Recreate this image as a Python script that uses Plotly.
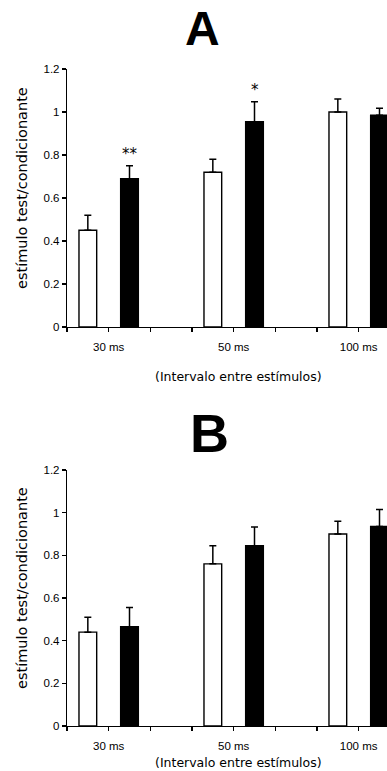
import plotly.graph_objects as go

categories = ["30 ms", "50 ms", "100 ms"]
# Panel A
a_white = [0.45, 0.72, 1.00]
a_white_err = [0.07, 0.06, 0.06]
a_black = [0.69, 0.955, 0.985]
a_black_err = [0.06, 0.093, 0.032]
a_marks = ["**", "*", ""]
# Panel B
b_white = [0.44, 0.76, 0.90]
b_white_err = [0.07, 0.085, 0.06]
b_black = [0.465, 0.845, 0.935]
b_black_err = [0.09, 0.088, 0.08]

y_ticks = [0, 0.2, 0.4, 0.6, 0.8, 1, 1.2]
y_title = "estímulo test/condicionante"
x_title = "(Intervalo entre estímulos)"

W, H = 387, 771
L, R = 67, 0
group_pos = [3 * i + 1 for i in range(len(categories))]
bar_w = 0.425

fig = go.Figure()

def add_panel(white, werr, black, berr, xa, ya):
    fig.add_trace(go.Bar(
        x=[p - 0.5 for p in group_pos], y=white, width=bar_w,
        marker=dict(color="white", line=dict(color="black", width=1.4)),
        error_y=dict(type="data", array=werr, arrayminus=[0] * len(werr), symmetric=False,
                     color="black", thickness=1.5, width=3.5),
        xaxis=xa, yaxis=ya, showlegend=False, hoverinfo="skip"))
    fig.add_trace(go.Bar(
        x=[p + 0.5 for p in group_pos], y=black, width=bar_w,
        marker=dict(color="black", line=dict(color="black", width=1.4)),
        error_y=dict(type="data", array=berr, arrayminus=[0] * len(berr), symmetric=False,
                     color="black", thickness=1.5, width=3.5),
        xaxis=xa, yaxis=ya, showlegend=False, hoverinfo="skip"))

add_panel(a_white, a_white_err, a_black, a_black_err, "x", "y")
add_panel(b_white, b_white_err, b_black, b_black_err, "x2", "y2")

tickvals = list(range(0, 8))
ticktext = [categories[group_pos.index(t)] if t in group_pos else "" for t in tickvals]

def y_dom(top_px, bot_px):
    return [(H - bot_px) / H, (H - top_px) / H]

def px_x(px):
    return (px - L) / (W - L - R)

def px_y(py):
    return (H - py) / H

xaxis_common = dict(range=[0, 7.68], tickvals=tickvals, ticktext=ticktext,
                    ticks="outside", ticklen=4, tickwidth=1.2, tickcolor="black",
                    showline=True, linecolor="black", linewidth=1.2, showgrid=False,
                    zeroline=False, tickfont=dict(family="Liberation Sans", size=11.5, color="black"),
                    ticklabelstandoff=5)
yaxis_common = dict(range=[0, 1.2], tickvals=y_ticks, ticktext=[f"{v:g}" for v in y_ticks],
                    ticks="outside", ticklen=4, tickwidth=1.2, tickcolor="black",
                    showline=True, linecolor="black", linewidth=1.2, showgrid=False,
                    zeroline=False, tickfont=dict(family="Liberation Sans", size=11.5, color="black"))

fig.update_layout(
    width=W, height=H, margin=dict(l=L, r=R, t=0, b=0, autoexpand=False),
    paper_bgcolor="white", plot_bgcolor="white", barmode="overlay",
    xaxis=dict(domain=[0, 1], anchor="y", **xaxis_common),
    yaxis=dict(domain=y_dom(69, 327), anchor="x", **yaxis_common),
    xaxis2=dict(domain=[0, 1], anchor="y2", **xaxis_common),
    yaxis2=dict(domain=y_dom(470, 726), anchor="x2", **yaxis_common),
)

ann = []
for i, m in enumerate(a_marks):
    if m:
        ann.append(dict(x=group_pos[i] + 0.5, y=a_black[i] + a_black_err[i], xref="x", yref="y",
                        text=m, showarrow=False, yanchor="bottom", yshift=1,
                        font=dict(family="DejaVu Sans", size=15, color="black")))
ann.append(dict(x=px_x(202), y=px_y(29), xref="paper", yref="paper", text="<b>A</b>",
                showarrow=False, xanchor="center", yanchor="middle",
                font=dict(family="Liberation Sans", size=48, color="black")))
ann.append(dict(x=px_x(209), y=px_y(433), xref="paper", yref="paper", text="<b>B</b>",
                showarrow=False, xanchor="center", yanchor="middle",
                font=dict(family="Liberation Sans", size=54, color="black")))
for yc, xt_y in [(188, 376), (588, 762)]:
    ann.append(dict(x=px_x(22), y=px_y(yc), xref="paper", yref="paper",
                    text=y_title, textangle=-90, showarrow=False, xanchor="center", yanchor="middle",
                    font=dict(family="DejaVu Sans", size=14.5, color="black")))
    ann.append(dict(x=px_x(238), y=px_y(xt_y), xref="paper", yref="paper", text=x_title,
                    showarrow=False, xanchor="center", yanchor="middle",
                    font=dict(family="DejaVu Sans", size=12.5, color="black")))
fig.update_layout(annotations=ann)

fig.write_html("out.html", config={"displayModeBar": False, "staticPlot": True},
               post_script="document.body.style.margin='0';document.body.style.overflow='hidden';")
